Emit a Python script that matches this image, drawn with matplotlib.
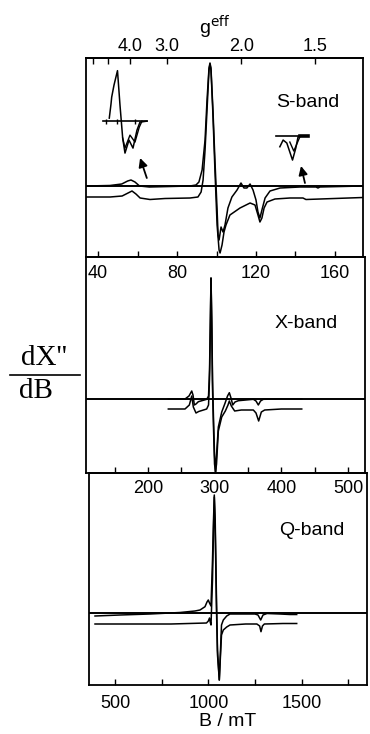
import numpy as np
import matplotlib
matplotlib.use("Agg")
import matplotlib.pyplot as plt
from matplotlib.lines import Line2D
from matplotlib.ticker import FixedLocator, NullFormatter

# ----------------------------------------------------------------
# S-band spectra (B in mT, signal in arbitrary units)
s_hnu = 225.0  # g * B for S-band, mT
s_b_exp = [34, 46, 52, 55, 56.7, 58.7, 61, 66, 76.5, 86.6, 89.6, 91.1, 92.7, 94.2,
           95.2, 96.2, 96.7, 97.2, 98.2, 99.2, 100.3, 100.8, 101.3, 102.3, 103.3,
           104.3, 105.8, 107.8, 110.4, 112.4, 113.9, 115.4, 117.0, 118.5, 120.0,
           121.0, 122.0, 123.0, 124.6, 127.1, 132.2, 142.3, 150.4, 151.4, 152.4, 174]
s_exp = [0, 0.5, 2, 5, 6, 4, 0, -1, -0.5, 0, 1, 4, 16, 46, 86, 118, 123, 118, 76, 26,
         -24, -49, -54, -41, -46, -39, -22, -11, -4, 3, -2, -2, 2, -4, -14, -26, -32,
         -24, -12, -5, -2, -1, -1, -2, -1, 0]
s_b_sim = [33.9, 46.1, 52.2, 55.2, 57.2, 59.2, 61.3, 66.3, 73.9, 86.6, 90.6, 92.2,
           93.2, 94.2, 95.2, 96.2, 96.7, 97.2, 98.2, 99.2, 100.3, 101.3, 101.8, 102.8,
           103.8, 104.8, 106.8, 111.9, 117.0, 119.5, 121.0, 122.0, 123.0, 124.1, 125.6,
           129.6, 137.2, 143.8, 145.3, 174.2]
s_sim = [0, 0, 1, 4, 6, 3, -1, -2.5, -1.5, -1, 0, 5, 17, 47, 87, 127, 133, 127, 82, 27,
         -28, -53, -56, -48, -35, -28, -18, -11, -6, -8, -18, -25, -21, -11, -5, -2, -1,
         -1, -2.5, -0.5]

# enlarged details in the S-band panel
ins1_x = [9.3, 11, 11.7, 14, 17.5, 20, 22.7, 25, 29, 33, 37, 40, 47]
ins1_a = [3, 17, 24, 36, 50.5, 16, -17, -32, -19, -27, -9, -1, 0]
ins1_bx = [22.7, 25, 30, 35, 39.3, 42]
ins1_b = [-17, -27, -14, -21, -6, 0]
ins1_ticks = [6, 17, 35]
ins2_x = [8, 11.3, 15, 20.7, 24, 26.3, 29]
ins2_a = [-10.7, -4, -7, -24, -12, -0.7, 0]
ins2_bx = [18, 22, 25, 28]
ins2_b = [-6, -15, -8, -1]

# arrows (tail, head) in S-band data units
arrows = [((64.7, 8), (61.3, 28)), ((144.8, 3), (142.8, 20))]

# ----------------------------------------------------------------
# X-band spectra
x_b_exp = [230.5, 255.5, 261.5, 265.6, 267.5, 269.5, 272, 275.5, 288.1, 290.8, 292.3,
           293.5, 294.5, 295.7, 296.8, 298.3, 299.8, 301.3, 302.8, 305.5, 310.6, 315.5,
           319.3, 322, 324.5, 327.1, 330.5, 335.5, 358, 362, 365.5, 368.8, 373, 398, 430.6]
x_exp = [0, 0, 3, 8, 4, -6, -5, -2.7, -0.3, 3, 29, 79, 121, 79, 19, -21, -56, -72.7,
         -56, -28, -13, -4.3, 3, 6.3, 1, -6, -3, -1.7, -0.3, -2, -6, -2, -0.3, 0, 0]
x_b_sim = [230.5, 255.5, 262, 265.6, 268, 272, 276, 288, 290.8, 292.3, 293.5, 294.5,
           295.7, 296.8, 298.3, 299.8, 301.3, 302.8, 305.5, 310.6, 316, 320, 322, 325,
           330, 340, 358, 362, 366, 370, 375, 400, 430.6]
x_sim = [0, 0, 4, 13, 2, -4, -2.5, 0, 4, 30, 80, 131, 80, 20, -20, -55, -63, -55, -22,
         -8, -2, 4, 8, 3, -2, -1, -1, -4, -12, -3, -1, 0, 0]

# ----------------------------------------------------------------
# Q-band spectra
q_b_exp = [392.9, 526.8, 687.5, 848.2, 928.6, 955.4, 982.1, 992.8, 999.8, 1006.2,
           1014.3, 1022.3, 1027.7, 1031.9, 1036.8, 1043.7, 1049.1, 1058.7, 1065.2,
           1070.5, 1080.2, 1098.4, 1116.1, 1169.6, 1250, 1266, 1280.5, 1292.8, 1314.3,
           1384, 1437.5, 1473.4]
q_exp = [-3, -2, -1, 0.5, 2, 3, 6.3, 11, 13, 10, 7, 53, 93, 118, 93, 13, -37, -67, -37,
         -12, -7, -3, -1, -1, -1, -2, -7, -2, -0.5, -1, -1.5, -1.5]
q_b_sim = [392.9, 600, 800, 990, 1000, 1006.2, 1010, 1014.3, 1022.3, 1027.7, 1031.9,
           1036.8, 1043.7, 1049.1, 1058.7, 1065.2, 1070.5, 1080.2, 1098.4, 1116.1, 1200,
           1260, 1275, 1282, 1290, 1300, 1400, 1473.4]
q_sim = [0, 0, 0, 1, 3, 6, 2, -1, 44, 94, 127, 94, 14, -31, -56, -31, -11, -6, -3, -1,
         0, 0, -2, -7.7, -2, 0, 0.5, 0.5]

g_major = [4.0, 3.0, 2.0, 1.5]
g_minor = [6.0, 5.0]


def style_axes(ax, xlim, ylim, major, minor, pad):
    ax.set_facecolor("none")
    ax.set_xlim(*xlim)
    ax.set_ylim(*ylim)
    ax.set_yticks([])
    ax.xaxis.set_major_locator(FixedLocator(major))
    ax.xaxis.set_minor_locator(FixedLocator(minor))
    ax.tick_params(axis="x", which="both", direction="in", length=4, width=1,
                   labelsize=13, pad=pad)
    for sp in ax.spines.values():
        sp.set_linewidth(1.3)
    ax.axhline(0, color="k", lw=1.4, zorder=1)


def draw_plot():
    plt.rcParams["font.family"] = ["Liberation Sans", "DejaVu Sans"]
    fig = plt.figure(figsize=(3.7, 7.34), dpi=100)
    W, H = 370.0, 734.0

    def box(l, r, t, b):
        return [l / W, (H - b) / H, (r - l) / W, (b - t) / H]

    ax1 = fig.add_axes(box(86, 363, 58, 257))
    ax2 = fig.add_axes(box(86, 365, 257, 473))
    ax3 = fig.add_axes(box(89, 367, 473, 685))

    # S-band
    style_axes(ax1, (33.9, 174.2), (-71, 128), [40, 80, 120, 160],
               [60, 100, 140], 5.5)
    ax1.plot(s_b_exp, s_exp, color="k", lw=1.1)
    ax1.plot(s_b_sim, np.array(s_sim) - 11, color="k", lw=1.1)
    ax1.text(0.80, 0.775, "S-band", transform=ax1.transAxes, fontsize=14,
             ha="center", va="center")

    top = ax1.secondary_xaxis("top", functions=(lambda b: s_hnu / b,
                                                lambda g: s_hnu / g))
    top.xaxis.set_major_locator(FixedLocator(g_major))
    top.xaxis.set_minor_locator(FixedLocator(g_minor))
    top.xaxis.set_minor_formatter(NullFormatter())
    top.set_xticklabels([f"{g:.1f}" for g in g_major])
    top.tick_params(which="both", direction="in", length=4, width=1,
                    labelsize=13, pad=2)
    top.spines["top"].set_linewidth(1.3)
    fig.text(215 / W, 1 - 27 / H, "g$^{\\mathrm{eff}}$", fontsize=14,
             ha="center", va="center")

    in1 = ax1.inset_axes([0.0505, 0.487, 0.1805, 0.477])
    in1.set_xlim(0, 50)
    in1.set_ylim(-39, 56)
    in1.axis("off")
    in1.plot([3, 47], [0, 0], color="k", lw=1.2)
    in1.plot(ins1_x, ins1_a, color="k", lw=1.1)
    in1.plot(ins1_bx, ins1_b, color="k", lw=1.0)
    in1.vlines(ins1_ticks, -2.5, 2.5, color="k", lw=1.0)

    in2 = ax1.inset_axes([0.671, 0.462, 0.144, 0.176])
    in2.set_xlim(0, 40)
    in2.set_ylim(-29, 6)
    in2.axis("off")
    in2.plot([4, 36], [0, 0], color="k", lw=1.2)
    in2.plot([28, 36], [0, 0], color="k", lw=2.6)
    in2.plot(ins2_x, ins2_a, color="k", lw=1.1)
    in2.plot(ins2_bx, ins2_b, color="k", lw=1.0)

    for tail, head in arrows:
        ax1.annotate("", xy=head, xytext=tail,
                     arrowprops=dict(arrowstyle="-|>", color="k", lw=1.3,
                                     mutation_scale=13, shrinkA=0, shrinkB=0))

    # X-band
    style_axes(ax2, (107, 525.5), (-74, 142), [200, 300, 400, 500],
               [150, 250, 350, 450], 5)
    ax2.plot(x_b_exp, x_exp, color="k", lw=1.1)
    ax2.plot(x_b_sim, np.array(x_sim) - 10, color="k", lw=1.1)
    ax2.text(0.79, 0.69, "X-band", transform=ax2.transAxes, fontsize=14,
             ha="center", va="center")

    # Q-band
    style_axes(ax3, (360.7, 1850), (-72, 140), [500, 1000, 1500],
               [750, 1250, 1750], 7)
    ax3.plot(q_b_exp, q_exp, color="k", lw=1.1)
    ax3.plot(q_b_sim, np.array(q_sim) - 11, color="k", lw=1.1)
    ax3.text(0.80, 0.73, "Q-band", transform=ax3.transAxes, fontsize=14,
             ha="center", va="center")
    ax3.set_xlabel("B / mT", fontsize=14, labelpad=1)

    # y label as a fraction
    fig.text(44 / W, 1 - 358 / H, "dX''", fontsize=21, family="Liberation Serif",
             ha="center", va="center")
    fig.text(36 / W, 1 - 391 / H, "dB", fontsize=21, family="Liberation Serif",
             ha="center", va="center")
    fig.add_artist(Line2D([10 / W, 80 / W], [1 - 375 / H, 1 - 375 / H],
                          color="k", lw=1.2))

    fig.savefig("out.png", dpi=100)


if __name__ == "__main__":
    draw_plot()
